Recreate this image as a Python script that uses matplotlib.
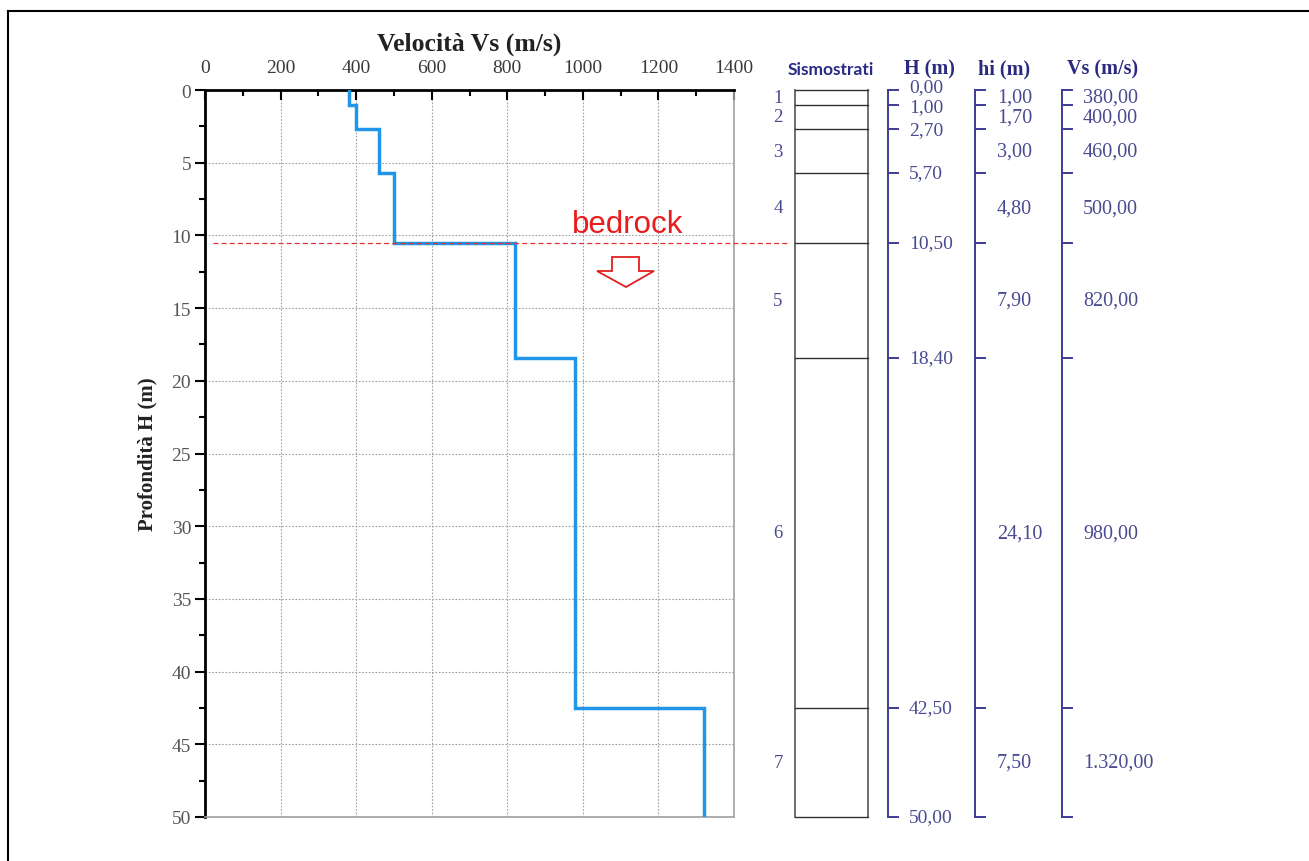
import numpy as np
import matplotlib
matplotlib.use("Agg")
import matplotlib.pyplot as plt
from matplotlib.patches import Polygon
from matplotlib.lines import Line2D

# Seismic layers (sismostrati)
layers = [1, 2, 3, 4, 5, 6, 7]
depth_top = [0.0, 1.0, 2.7, 5.7, 10.5, 18.4, 42.5]
depth_bottom = [1.0, 2.7, 5.7, 10.5, 18.4, 42.5, 50.0]
thickness = [1.00, 1.70, 3.00, 4.80, 7.90, 24.10, 7.50]
vs = [380, 400, 460, 500, 820, 980, 1320]
boundaries = [0.0, 1.0, 2.7, 5.7, 10.5, 18.4, 42.5, 50.0]
bedrock_depth = 10.5

x_ticks = [0, 200, 400, 600, 800, 1000, 1200, 1400]
y_ticks = [0, 5, 10, 15, 20, 25, 30, 35, 40, 45, 50]


def it_fmt(v):
    """Italian number format: 1.320,00"""
    s = f"{v:,.2f}"
    return s.replace(",", "X").replace(".", ",").replace("X", ".")


W, H = 1309, 862
fig = plt.figure(figsize=(W / 100, H / 100), dpi=100)
serif = ["Liberation Serif", "DejaVu Serif"]

# pixel geometry of the profile plot
x0, x1, y0, y1 = 205, 734, 91, 818
ax = fig.add_axes([x0 / W, 1 - y1 / H, (x1 - x0) / W, (y1 - y0) / H])

# Vs profile as a step line
prof_x = np.repeat(vs, 2)
prof_y = np.ravel(np.column_stack([depth_top, depth_bottom]))
ax.plot(prof_x, prof_y, color="#2196e8", lw=2.5, solid_joinstyle="miter",
        zorder=4)

ax.set_xlim(0, 1400)
ax.set_ylim(50, 0)
ax.xaxis.tick_top()
ax.xaxis.set_label_position("top")
ax.set_xticks(x_ticks)
ax.set_xticks(np.arange(100, 1400, 200), minor=True)
ax.set_yticks(y_ticks)
ax.set_yticks(np.arange(2.5, 50, 5), minor=True)
ax.tick_params(axis="x", which="major", direction="in", length=7, width=1.5,
               labelsize=14, labelcolor="#3a3a3a", pad=10)
ax.tick_params(axis="x", which="minor", direction="in", length=4, width=1.5)
ax.tick_params(axis="y", which="major", direction="out", length=7, width=1.5,
               labelsize=14, labelcolor="#555555", pad=3)
ax.tick_params(axis="y", which="minor", direction="out", length=4, width=1.5)
for lab in ax.get_xticklabels() + ax.get_yticklabels():
    lab.set_family(serif)

ax.grid(True, which="major", color="#a0a0a0", linestyle=(0, (1.5, 1.5)),
        lw=0.8)
ax.spines["left"].set_linewidth(2)
ax.spines["top"].set_linewidth(2)
ax.spines["left"].set_color("black")
ax.spines["top"].set_color("black")
ax.spines["right"].set_color("#a0a0a0")
ax.spines["bottom"].set_color("#a0a0a0")
ax.spines["right"].set_linewidth(1.2)
ax.spines["bottom"].set_linewidth(1.2)

ax.set_xlabel("Velocità Vs (m/s)", family=serif, fontsize=18.5,
              fontweight="bold", color="#222222", labelpad=7)
ax.set_ylabel("Profondità H (m)", family=serif, fontsize=15,
              fontweight="bold", color="#222222", labelpad=10)

# bedrock marker
ax.plot([20, 1548], [bedrock_depth, bedrock_depth], color="#e03030",
        lw=0.9, ls=(0, (4, 2.5)), clip_on=False, zorder=5)
ax.text(971, bedrock_depth - 0.75, "bedrock", color="#e81c1c", fontsize=22.5,
        family=["Liberation Sans", "DejaVu Sans"], va="baseline", ha="left")

# right-hand stratigraphic columns, x in pixel units, y in depth
rx0 = 740
rax = fig.add_axes([rx0 / W, 1 - y1 / H, (W - rx0) / W, (y1 - y0) / H])
rax.set_xlim(rx0, W)
rax.set_ylim(50, 0)
rax.axis("off")

navy = "#3c3c96"
txt = "#4a4a92"
hdr_y = -1.45

# layer column
bx0, bx1 = 795, 868
rax.plot([bx0, bx0], [0, 50], color="#555555", lw=1.2, clip_on=False)
rax.plot([bx1, bx1], [0, 50], color="#555555", lw=1.2, clip_on=False)
for b in boundaries:
    rax.plot([bx0, bx1], [b, b], color="#333333", lw=1.0, clip_on=False)
for n, t, b in zip(layers, depth_top, depth_bottom):
    rax.text(778, (t + b) / 2, str(n), family=serif, fontsize=13.5,
             color=txt, ha="center", va="center")
rax.text(831, hdr_y, "Sismostrati", family=["Lato", "DejaVu Sans"],
         fontsize=12.5, fontweight="bold", color="#2a2a88", ha="center",
         va="center")


def bracket(xb, ticks_at):
    rax.plot([xb, xb], [0, 50], color=navy, lw=1.4, clip_on=False)
    for b in ticks_at:
        rax.plot([xb, xb + 10], [b, b], color=navy, lw=1.4, clip_on=False)


# H column (the two top labels are nudged apart, they sit very close)
bracket(888, boundaries)
nudge = {0: 3, 1: -2}
for i, b in enumerate(boundaries):
    rax.annotate(it_fmt(b), (909, b), xytext=(0, nudge.get(i, 0)),
                 textcoords="offset pixels", family=serif, fontsize=14,
                 color=txt, ha="left", va="center")
rax.text(929, hdr_y, "H (m)", family=serif, fontsize=14.5, fontweight="bold",
         color="#2a2a80", ha="center", va="center")

# hi column
bracket(975, boundaries)
for h, t, b in zip(thickness, depth_top, depth_bottom):
    rax.text(997, (t + b) / 2, it_fmt(h), family=serif, fontsize=14.5,
             color=txt, ha="left", va="center")
rax.text(1004, hdr_y, "hi (m)", family=serif, fontsize=14.5,
         fontweight="bold", color="#2a2a80", ha="center", va="center")

# Vs column
bracket(1062, boundaries)
for v, t, b in zip(vs, depth_top, depth_bottom):
    rax.text(1083, (t + b) / 2, it_fmt(v), family=serif, fontsize=14.5,
             color=txt, ha="left", va="center")
rax.text(1103, hdr_y, "Vs (m/s)", family=serif, fontsize=14.5,
         fontweight="bold", color="#2a2a80", ha="center", va="center")

# overlay in pixel units: frame lines and hollow arrow
oax = fig.add_axes([0, 0, 1, 1])
oax.set_xlim(0, W)
oax.set_ylim(H, 0)
oax.axis("off")
oax.add_line(Line2D([8, W], [12, 12], color="black", lw=1.5))
oax.add_line(Line2D([8, 8], [12, H], color="black", lw=1.5))
arrow = Polygon([[612, 258], [639, 258], [639, 272], [654, 272], [626, 288],
                 [597, 272], [612, 272]], closed=True, fill=False,
                edgecolor="#e02020", lw=1.3)
oax.add_patch(arrow)

fig.savefig("out.png", dpi=100)
